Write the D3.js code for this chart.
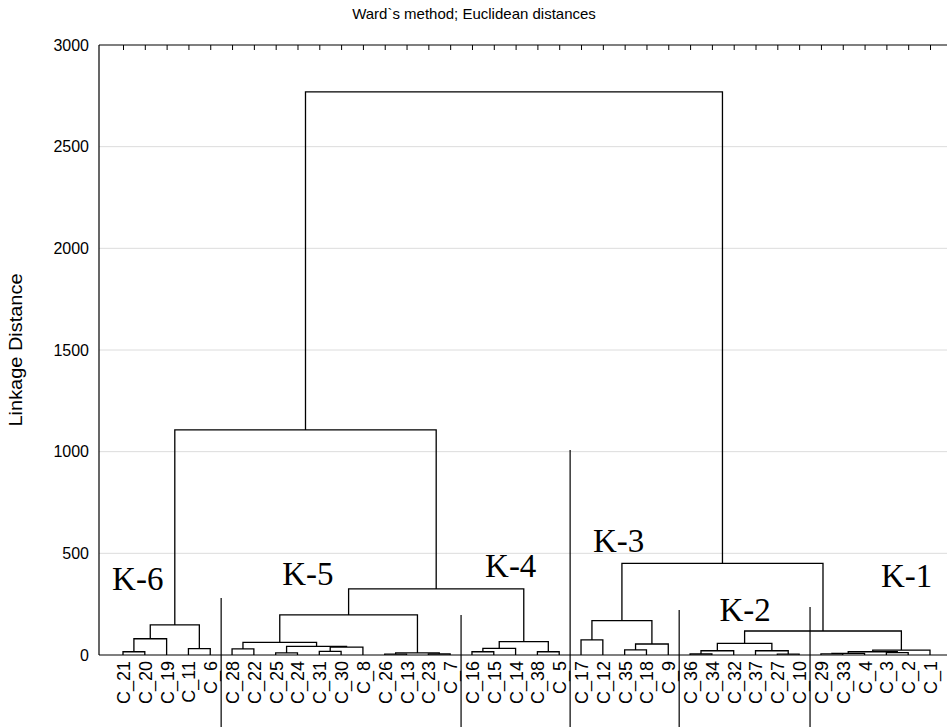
<!DOCTYPE html>
<html lang="en">
<head>
<meta charset="utf-8">
<title>Ward's method; Euclidean distances</title>
<script src="https://d3js.org/d3.v7.min.js"></script>
<style type="text/css">
    body { margin: 0; background: white; }

    .axis text {
        font-family: Arial, "Liberation Sans", sans-serif;
        font-size: 16px;
        fill: black;
    }
    .axis path, .axis line { stroke: black; }
    .xlabels text { font-size: 18px; }

    .grid line { stroke: #dcdcdc; stroke-width: 1px; }
    .frame { stroke: black; stroke-width: 1.2px; }

    .link {
        fill: none;
        stroke: black;
        stroke-width: 1.3px;
    }
    .sep { stroke: black; stroke-width: 1.2px; }

    .klabel {
        font-family: "Times New Roman", "Liberation Serif", serif;
        font-size: 33px;
        fill: black;
    }
    .title {
        font-family: Arial, "Liberation Sans", sans-serif;
        font-size: 15px;
        fill: black;
    }
    .ylabel {
        font-family: Arial, "Liberation Sans", sans-serif;
        font-size: 19px;
        fill: black;
    }
</style>
</head>
<body>
<script type="text/javascript">

const w = 947;
const h = 727;
const plotLeft = 99;
const plotTop = 45;
const plotBottom = 655;

// leaf order along the x axis
const leaves = ["C_21", "C_20", "C_19", "C_11", "C_6",
                "C_28", "C_22", "C_25", "C_24", "C_31", "C_30", "C_8", "C_26", "C_13", "C_23", "C_7",
                "C_16", "C_15", "C_14", "C_38", "C_5",
                "C_17", "C_12", "C_35", "C_18", "C_9",
                "C_36", "C_34", "C_32", "C_37", "C_27", "C_10",
                "C_29", "C_33", "C_4", "C_3", "C_2", "C_1"];

// merges: [left child, right child, linkage distance]; merge i is named "m" + (i + 1)
const merges = [
    ["C_21", "C_20", 16],
    ["m1", "C_19", 80],
    ["C_11", "C_6", 31],
    ["m2", "m3", 148],
    ["C_28", "C_22", 30],
    ["C_25", "C_24", 10],
    ["C_31", "C_30", 18],
    ["m7", "C_8", 39],
    ["m6", "m8", 42],
    ["m5", "m9", 62],
    ["C_26", "C_13", 4],
    ["C_23", "C_7", 5],
    ["m11", "m12", 10],
    ["m10", "m13", 197],
    ["C_16", "C_15", 16],
    ["m15", "C_14", 33],
    ["C_38", "C_5", 16],
    ["m16", "m17", 66],
    ["m14", "m18", 325],
    ["m4", "m19", 1107],
    ["C_17", "C_12", 74],
    ["C_35", "C_18", 25],
    ["m22", "C_9", 54],
    ["m21", "m23", 169],
    ["C_36", "C_34", 5],
    ["m25", "C_32", 21],
    ["C_27", "C_10", 4],
    ["C_37", "m27", 21],
    ["m26", "m28", 57],
    ["C_29", "C_33", 6],
    ["m30", "C_4", 8],
    ["C_3", "C_2", 12],
    ["m31", "m32", 16],
    ["m33", "C_1", 24],
    ["m29", "m34", 118],
    ["m24", "m35", 451],
    ["m20", "m36", 2769]
];

const yTicks = [0, 500, 1000, 1500, 2000, 2500, 3000];
const gridValues = [500, 1000, 1500, 2000, 2500];

// cluster annotations
const clusterNames = ["K-6", "K-5", "K-4", "K-3", "K-2", "K-1"];
// separator lines drawn after these leaves, and how high they reach
const sepAfter = ["C_6", "C_7", "C_5", "C_9", "C_10"];
const sepTop = [280, 197, 1008, 221, 236];

// where the K labels sit: [leaf offset of text start, baseline distance]
const clusterPlace = [[-0.5, 320], [7.3, 344], [16.6, 384], [21.55, 507], [27.35, 167], [34.75, 334]];

// scales
const xScale = d3.scalePoint()
                 .domain(leaves)
                 .range([123, 930]);

const yScale = d3.scaleLinear()
                 .domain([0, 3000])
                 .range([plotBottom, plotTop]);

const step = xScale.step();
const leafPos = i => xScale(leaves[0]) + i * step;

const svg = d3.select("body")
              .append("svg")
              .attr("width", w)
              .attr("height", h);

// grid
svg.append("g")
   .attr("class", "grid")
   .selectAll("line")
   .data(gridValues)
   .join("line")
   .attr("x1", plotLeft)
   .attr("x2", w)
   .attr("y1", d => yScale(d))
   .attr("y2", d => yScale(d));

// left axis (labels only, frame drawn separately)
const leftAxis = d3.axisLeft(yScale)
                   .tickValues(yTicks)
                   .tickFormat(d3.format("d"))
                   .tickSize(0)
                   .tickPadding(10);

svg.append("g")
   .attr("class", "axis")
   .attr("transform", "translate(" + plotLeft + ",0)")
   .call(leftAxis)
   .call(g => g.select(".domain").remove());

// top ticks, one per leaf, pointing down into the plot
const topAxis = d3.axisBottom(xScale)
                  .tickSize(5)
                  .tickFormat("");

svg.append("g")
   .attr("class", "axis")
   .attr("transform", "translate(0," + plotTop + ")")
   .call(topAxis)
   .call(g => g.select(".domain").remove());

// bottom labels
const bottomAxis = d3.axisBottom(xScale)
                     .tickSize(0);

svg.append("g")
   .attr("class", "axis xlabels")
   .attr("transform", "translate(0," + plotBottom + ")")
   .call(bottomAxis)
   .call(g => g.select(".domain").remove())
   .selectAll("text")
   .attr("x", 0)
   .attr("y", 0)
   .attr("dy", "0.36em")
   .attr("text-anchor", "end")
   .attr("transform", "translate(0,6) rotate(-90)");

// frame: left, top, bottom
svg.append("line").attr("class", "frame")
   .attr("x1", plotLeft).attr("x2", plotLeft)
   .attr("y1", plotTop).attr("y2", plotBottom);
svg.append("line").attr("class", "frame")
   .attr("x1", plotLeft).attr("x2", w)
   .attr("y1", plotTop).attr("y2", plotTop);
svg.append("line").attr("class", "frame")
   .attr("x1", plotLeft).attr("x2", w)
   .attr("y1", plotBottom).attr("y2", plotBottom);

// build dendrogram nodes
const nodes = {};
leaves.forEach(l => { nodes[l] = {x: xScale(l), h: 0}; });
merges.forEach((m, i) => {
    const a = nodes[m[0]];
    const b = nodes[m[1]];
    nodes["m" + (i + 1)] = {x: (a.x + b.x) / 2, h: m[2], a: a, b: b};
});

const links = merges.map((m, i) => nodes["m" + (i + 1)]);

svg.append("g")
   .selectAll("path")
   .data(links)
   .join("path")
   .attr("class", "link")
   .attr("d", d => "M" + d.a.x + "," + yScale(d.a.h)
                 + "V" + yScale(d.h)
                 + "H" + d.b.x
                 + "V" + yScale(d.b.h));

// separators between clusters
svg.append("g")
   .selectAll("line")
   .data(sepAfter)
   .join("line")
   .attr("class", "sep")
   .attr("x1", d => xScale(d) + step / 2)
   .attr("x2", d => xScale(d) + step / 2)
   .attr("y1", (d, i) => yScale(sepTop[i]))
   .attr("y2", h);

// cluster labels
svg.append("g")
   .selectAll("text")
   .data(clusterNames)
   .join("text")
   .attr("class", "klabel")
   .attr("x", (d, i) => leafPos(clusterPlace[i][0]))
   .attr("y", (d, i) => yScale(clusterPlace[i][1]))
   .text(d => d);

// title
svg.append("text")
   .attr("class", "title")
   .attr("x", 474)
   .attr("y", 19)
   .attr("text-anchor", "middle")
   .text("Ward`s method; Euclidean distances");

// y axis title
svg.append("text")
   .attr("class", "ylabel")
   .attr("text-anchor", "middle")
   .attr("dy", "0.35em")
   .attr("transform", "translate(15," + (plotTop + plotBottom) / 2 + ") rotate(-90) scale(1.05,1)")
   .text("Linkage Distance");

</script>
</body>
</html>
